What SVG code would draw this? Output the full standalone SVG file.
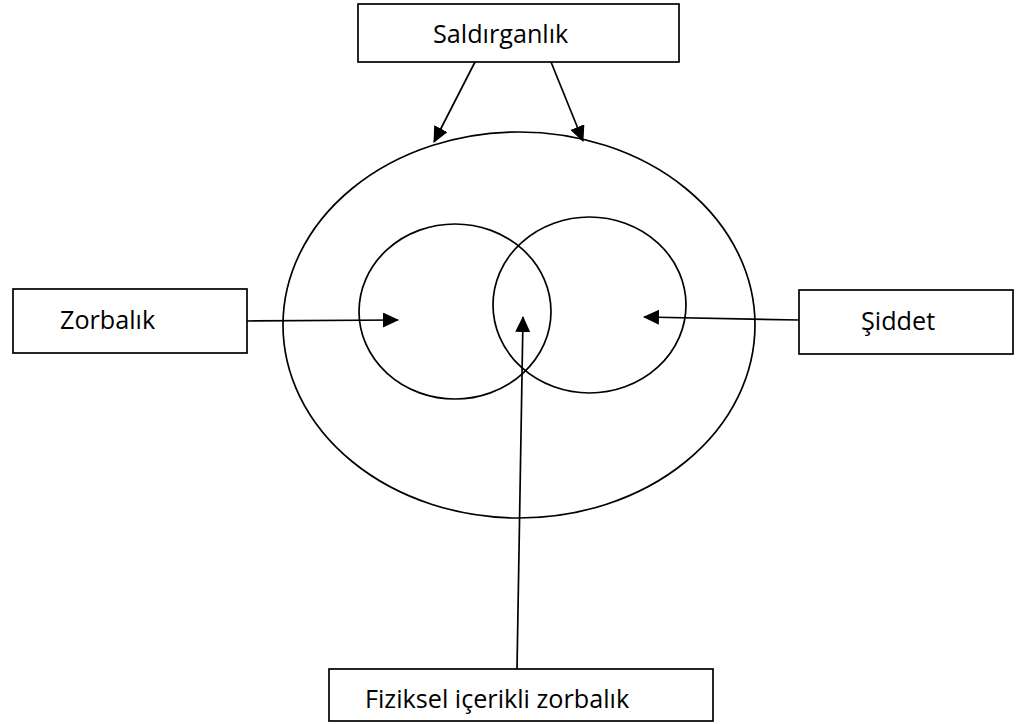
<svg xmlns="http://www.w3.org/2000/svg" width="1018" height="724" viewBox="0 0 1018 724">
<defs>
<marker id="arr" viewBox="0 0 16 15" refX="15" refY="7.5" markerWidth="16" markerHeight="15" markerUnits="userSpaceOnUse" orient="auto">
<path d="M0,0 L16,7.5 L0,15 Z" fill="#000"/>
</marker>
<style>
.box{fill:#fff;stroke:#000;stroke-width:1.7}
.shape{fill:none;stroke:#000;stroke-width:1.7}
.lbl{font-family:"Open Sans","Liberation Sans",sans-serif;font-size:25.2px;fill:#000}
.conn{fill:none;stroke:#000;stroke-width:1.7;marker-end:url(#arr)}
</style>
</defs>
<rect width="1018" height="724" fill="#fff"/>
<g id="sets">
<ellipse class="shape" cx="519" cy="325" rx="236" ry="193"/>
<ellipse class="shape" cx="455" cy="311.5" rx="96" ry="87.5"/>
<ellipse class="shape" cx="589.5" cy="305" rx="96.5" ry="88"/>
</g>
<g id="saldirganlik">
<rect class="box" x="358" y="4" width="321" height="58"/>
<text class="lbl" x="433" y="43">Saldırganlık</text>
</g>
<g id="zorbalik">
<rect class="box" x="13" y="289" width="234" height="64"/>
<text class="lbl" x="60" y="329">Zorbalık</text>
</g>
<g id="siddet">
<rect class="box" x="799" y="290" width="214" height="64"/>
<text class="lbl" x="861" y="330">Şiddet</text>
</g>
<g id="fiziksel">
<rect class="box" x="329" y="669" width="384" height="52"/>
<text class="lbl" x="365" y="708">Fiziksel içerikli zorbalık</text>
</g>
<g id="connectors">
<line class="conn" x1="475" y1="62" x2="434" y2="142"/>
<line class="conn" x1="551" y1="62" x2="583" y2="141"/>
<line class="conn" x1="247" y1="321" x2="398" y2="320"/>
<line class="conn" x1="799" y1="320" x2="644" y2="317"/>
<line class="conn" x1="517" y1="669" x2="523" y2="317"/>
</g>
</svg>
